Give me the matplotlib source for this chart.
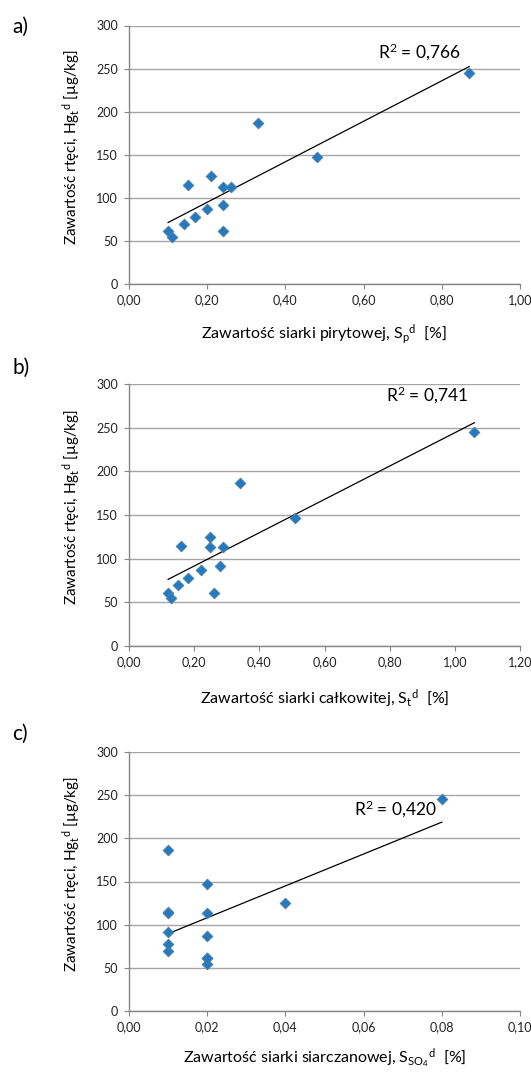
import numpy as np
import matplotlib
matplotlib.use("Agg")
import matplotlib.pyplot as plt
from matplotlib.ticker import FuncFormatter, MultipleLocator

plt.rcParams['font.family'] = ['Lato', 'DejaVu Sans']
plt.rcParams['mathtext.fontset'] = 'custom'
plt.rcParams['mathtext.rm'] = 'Lato'
plt.rcParams['mathtext.it'] = 'Lato:italic'
plt.rcParams['mathtext.bf'] = 'Lato:bold'

# === dane ===
hg = [61, 55, 70, 78, 87, 115, 125, 113, 113, 92, 61, 187, 147, 245]
s_pyr = [0.10, 0.11, 0.14, 0.17, 0.20, 0.15, 0.21, 0.24, 0.26, 0.24, 0.24, 0.33, 0.48, 0.87]
s_tot = [0.12, 0.13, 0.15, 0.18, 0.22, 0.16, 0.25, 0.25, 0.29, 0.28, 0.26, 0.34, 0.51, 1.06]
s_so4 = [0.02, 0.02, 0.01, 0.01, 0.02, 0.01, 0.04, 0.01, 0.02, 0.01, 0.02, 0.01, 0.02, 0.08]

panel_tags = ['a)', 'b)', 'c)']
r2_labels = ['0,766', '0,741', '0,420']
x_labels = [
    r'Zawartość siarki pirytowej, S$_{\mathrm{p}}{}^{\mathrm{d}}$  [%]',
    r'Zawartość siarki całkowitej, S$_{\mathrm{t}}{}^{\mathrm{d}}$  [%]',
    r'Zawartość siarki siarczanowej, S$_{\mathrm{SO}_4}{}^{\mathrm{d}}$  [%]',
]
y_label = r'Zawartość rtęci, Hg$_{\mathrm{t}}{}^{\mathrm{d}}$ [µg/kg]'
x_max = [1.0, 1.2, 0.1]
x_step = [0.2, 0.2, 0.02]
r2_pos = [(0.637, 269), (0.79, 287), (0.0575, 234)]

fig = plt.figure(figsize=(5.31, 10.75), dpi=100)

W, H = 531, 1075
boxes = [(25.5, 284), (384, 646), (752, 1011)]   # gora, dol w px
left_px, right_px = 129, 520
tag_y = [27, 368, 734]
xlab_base = [55, 58, 52]   # odleglosc linii bazowej opisu osi x od osi

grid_c = '#a6a6a6'
axis_c = '#868686'

for i, xs in enumerate([s_pyr, s_tot, s_so4]):
    top, bot = boxes[i]
    ax = fig.add_axes([left_px / W, 1 - bot / H, (right_px - left_px) / W, (bot - top) / H])

    ax.scatter(xs, hg, marker='D', s=30, facecolor='#1f7bc4', edgecolor='#5b7f9e',
               linewidths=0.6, zorder=3)

    # linia trendu
    a, b = np.polyfit(xs, hg, 1)
    xx = np.array([min(xs), max(xs)])
    ax.plot(xx, a * xx + b, color='black', lw=0.9, zorder=2)

    ax.text(r2_pos[i][0], r2_pos[i][1], 'R$^2$ = ' + r2_labels[i], fontsize=12.5,
            ha='left', va='center')

    ax.set_xlim(0, x_max[i])
    ax.set_ylim(0, 300)
    ax.xaxis.set_major_locator(MultipleLocator(x_step[i]))
    ax.yaxis.set_major_locator(MultipleLocator(50))
    ax.xaxis.set_major_formatter(FuncFormatter(lambda v, p: f'{v:.2f}'.replace('.', ',')))
    ax.yaxis.set_major_formatter(FuncFormatter(lambda v, p: f'{v:.0f}'))

    ax.grid(axis='y', color=grid_c, lw=1.0)
    ax.set_axisbelow(True)
    for side in ['top', 'right']:
        ax.spines[side].set_visible(False)
    for side in ['left', 'bottom']:
        ax.spines[side].set_color(axis_c)
        ax.spines[side].set_linewidth(1.0)
    ax.tick_params(axis='both', direction='out', length=3.6, width=0.8, color=axis_c,
                   labelsize=9, labelcolor='#222222')
    ax.tick_params(axis='x', pad=3.5)
    ax.tick_params(axis='y', pad=4.5)

    ax.set_xlabel(x_labels[i], fontsize=11.5)
    ax.xaxis.set_label_coords(0.5, -xlab_base[i] / (bot - top))
    ax.xaxis.label.set_va('baseline')
    ax.set_ylabel(y_label, fontsize=11)
    ax.yaxis.set_label_coords(-57 / (right_px - left_px), 0.53)
    ax.yaxis.label.set_va('center')

    fig.text(12 / W, 1 - tag_y[i] / H, panel_tags[i], fontsize=15, ha='left', va='center')

plt.savefig('out.png', dpi=100)
plt.close()
